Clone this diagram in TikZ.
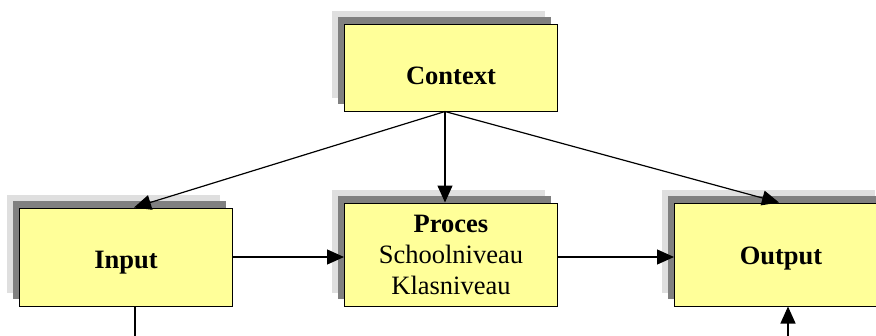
\documentclass[tikz,border=0pt]{standalone}
\usepackage{fontspec}
\setmainfont{Liberation Serif}
\usepackage{tikz}
\usetikzlibrary{positioning,shadows,arrows.meta}
\definecolor{BoxYellow}{HTML}{FFFF99}
\definecolor{ShadeDark}{HTML}{808080}
\definecolor{ShadeLight}{HTML}{DFDFDF}

\begin{document}
\begin{tikzpicture}[x=1pt,y=-1pt,>={Triangle[length=17pt,width=15pt]}]
  \tikzstyle{stage}=[draw=black,line width=1pt,fill=BoxYellow,
    minimum width=213pt,align=center,inner sep=0pt,
    font=\fontsize{26.5}{31}\selectfont,
    general shadow={fill=ShadeLight,shadow xshift=-13pt,shadow yshift=13pt},
    general shadow={fill=ShadeDark,shadow xshift=-7pt,shadow yshift=7pt}]
  \tikzstyle{flow}=[->,line width=1.2pt]
  \useasboundingbox (0,0) rectangle (876,335);
  \clip (0,0) rectangle (876,335);
  \node[stage,minimum height=87pt,text height=34pt,text depth=0pt]
    (context) at (451,67.5) {\textbf{Context}};
  \node[stage,minimum height=103pt,below=91pt of context] (proces)
    {\textbf{Proces}\\Schoolniveau\\Klasniveau};
  \node[stage,minimum height=98pt,text height=22pt,text depth=0pt,
    left=111pt of proces.south west,anchor=south east] (input)
    {\textbf{Input}};
  \node[stage,minimum height=103pt,text height=19pt,text depth=0pt,
    right=116pt of proces.south east,anchor=south west] (output)
    {\textbf{Output}};
  \coordinate (inbase) at (135,340);
  \coordinate (outbase) at (788,340);
  \draw[flow] ([xshift=-6pt]context.south) -- ([xshift=8pt]input.north);
  \draw[flow] ([xshift=-6pt]context.south) -- ([xshift=-6pt]proces.north);
  \draw[flow] ([xshift=-6pt]context.south) -- ([xshift=-2pt]output.north);
  \draw[flow] (input.east) -- (input.east -| proces.west);
  \draw[flow] (proces.east |- input.east) -- (input.east -| output.west);
  \draw[line width=1.2pt] (input.south -| inbase) -- (inbase);
  \draw[flow] (outbase) -- (output.south -| outbase);
\end{tikzpicture}
\end{document}
